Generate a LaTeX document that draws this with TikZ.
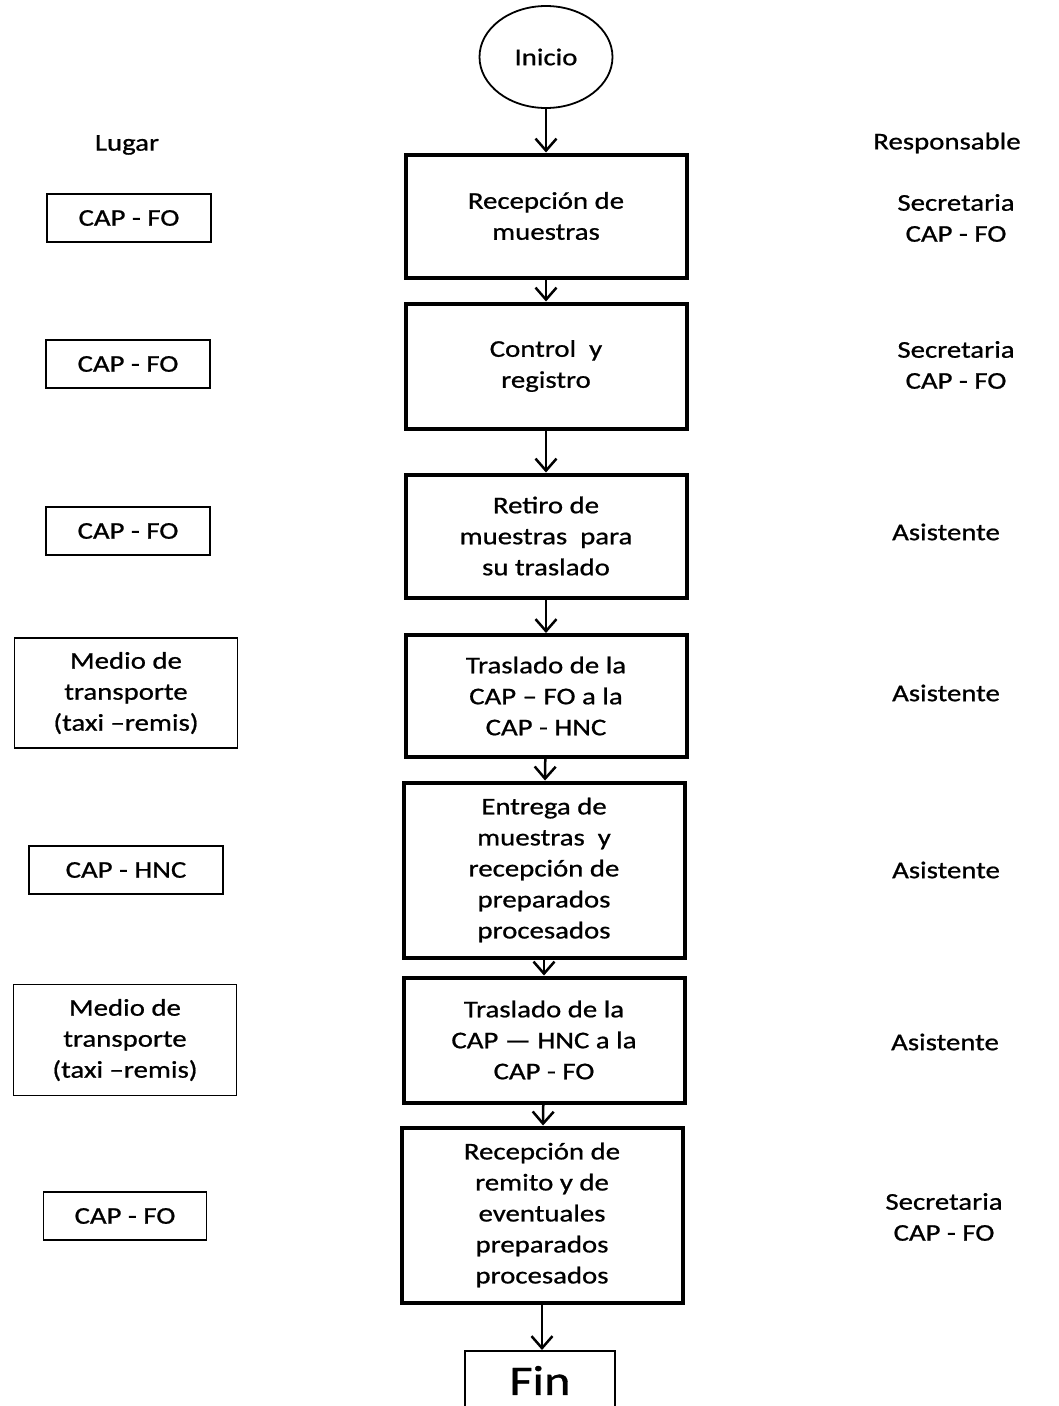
\documentclass[tikz,border=0pt]{standalone}
\usepackage{fontspec}
\setmainfont{Carlito}[FakeStretch=1.2,FakeBold=0.8]
\usetikzlibrary{arrows.meta,shapes.geometric,positioning}

\begin{document}
\begin{tikzpicture}[x=1pt,y=-1pt,
  proc/.style={rectangle,draw,line width=4pt,minimum width=281pt,align=center,font=\fontsize{24}{31}\selectfont},
  lugar/.style={rectangle,draw,line width=1.8pt,align=center,font=\fontsize{24}{31}\selectfont},
  resp/.style={align=center,font=\fontsize{24}{31}\selectfont},
  arrow/.style={-{Straight Barb[length=12pt,width=21pt]},line width=2.5pt}
]
  \clip (0,0) rectangle (1058,1406);
  \fill[white] (0,0) rectangle (1058,1406);
  % columna central
  \node[ellipse,draw,line width=1.8pt,minimum width=133pt,minimum height=102pt,font=\fontsize{24}{31}\selectfont] (ini) at (546,57) {Inicio};
  \node[proc,minimum height=123pt] (b1) at (546,216) {Recepción de\\muestras};
  \node[proc,minimum height=125pt] (b2) at (546,366) {Control\ \ y\\registro};
  \node[proc,minimum height=123pt] (b3) at (546,536) {Retiro de\\muestras\ \ para\\su traslado};
  \node[proc,minimum height=122pt] (b4) at (546,696) {Traslado de la\\CAP -- FO a la\\CAP - HNC};
  \node[proc,minimum height=175pt] (b5) at (544,870) {Entrega de\\muestras\ \ y\\recepción de\\preparados\\procesados};
  \node[proc,minimum height=125pt] (b6) at (544,1040) {Traslado de la\\CAP --- HNC a la\\CAP - FO};
  \node[proc,minimum height=175pt] (b7) at (542,1215) {Recepción de\\remito y de\\eventuales\\preparados\\procesados};
  \node[rectangle,draw,line width=1.8pt,anchor=north,minimum width=150pt,inner xsep=0pt,inner ysep=17pt,text height=27pt,text depth=45pt,font=\fontsize{42}{42}\selectfont] (fin) at (540,1350) {Fin};
  % lugar
  \node[resp] (lug) at (127,145) {Lugar};
  \node[lugar,minimum width=164pt,minimum height=48pt] (l1) at (129,218) {CAP - FO};
  \node[lugar,minimum width=164pt,minimum height=48pt] (l2) at (128,364) {CAP - FO};
  \node[lugar,minimum width=164pt,minimum height=48pt] (l3) at (128,531) {CAP - FO};
  \node[lugar,minimum width=223pt,minimum height=110pt] (l4) at (126,693) {Medio de\\transporte\\(taxi --remis)};
  \node[lugar,minimum width=194pt,minimum height=48pt] (l5) at (126,870) {CAP - HNC};
  \node[lugar,minimum width=223pt,minimum height=111pt] (l6) at (125,1040) {Medio de\\transporte\\(taxi --remis)};
  \node[lugar,minimum width=163pt,minimum height=48pt] (l7) at (125,1216) {CAP - FO};
  % responsable
  \node[resp] (res) at (947,143) {Responsable};
  \node[resp] (r1) at (956,218) {Secretaria\\CAP - FO};
  \node[resp] (r2) at (956,365) {Secretaria\\CAP - FO};
  \node[resp] (r3) at (946,532) {Asistente};
  \node[resp] (r4) at (946,693) {Asistente};
  \node[resp] (r5) at (946,870) {Asistente};
  \node[resp] (r6) at (945,1042) {Asistente};
  \node[resp] (r7) at (944,1217) {Secretaria\\CAP - FO};
  % flechas
  \draw[arrow] (ini) -- (b1);
  \draw[arrow] (b1) -- (b2);
  \draw[arrow] (b2) -- (b3);
  \draw[arrow] (b3) -- (b4);
  \draw[arrow] (b4) -- (b5);
  \draw[arrow] (b5) -- (b6);
  \draw[arrow] (b6) -- (b7);
  \draw[arrow] (b7.south) -- (b7.south |- fin.north);
\end{tikzpicture}
\end{document}
